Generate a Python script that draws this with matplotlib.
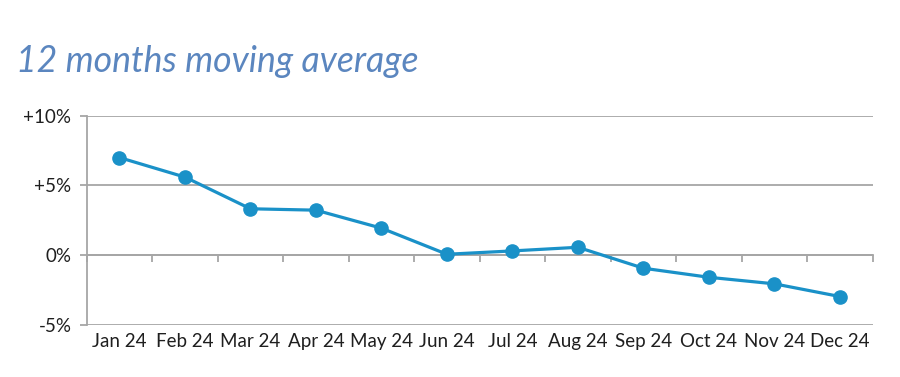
import matplotlib.pyplot as plt
import numpy as np

months = ['Jan 24', 'Feb 24', 'Mar 24', 'Apr 24', 'May 24', 'Jun 24',
          'Jul 24', 'Aug 24', 'Sep 24', 'Oct 24', 'Nov 24', 'Dec 24']
moving_avg = [7.0, 5.6, 3.33, 3.23, 1.94, 0.07, 0.31, 0.57, -0.93, -1.58, -2.05, -2.96]
yticks = [-5, 0, 5, 10]
ylabels = ['-5%', '0%', '+5%', '+10%']

plt.rcParams['font.family'] = ['Lato', 'DejaVu Sans']

fig = plt.figure(figsize=(9, 3.77), dpi=100)
ax = fig.add_axes([0.0963, 0.1379, 0.9697 - 0.0963, 0.6931 - 0.1379])

x = np.arange(len(months))
ax.plot(x, moving_avg, color='#1a91c8', lw=2.3, marker='o', ms=9.5, zorder=3)

ax.set_xlim(-0.5, len(months) - 0.5)
ax.set_ylim(-5, 10)
ax.set_yticks(yticks)
ax.set_yticklabels(ylabels)
ax.yaxis.grid(True, color='#a6a6a6', lw=1.3)
ax.set_axisbelow(True)

for s in ['top', 'right']:
    ax.spines[s].set_visible(False)
ax.spines['left'].set_color('#a6a6a6')
ax.spines['left'].set_linewidth(1.3)
ax.spines['bottom'].set_position(('data', 0))
ax.spines['bottom'].set_color('#a6a6a6')
ax.spines['bottom'].set_linewidth(1.3)

# labels at category centres, tick marks on category boundaries
ax.set_xticks(x)
ax.set_xticklabels(months)
ax.set_xticks(np.arange(len(months) + 1) - 0.5, minor=True)
ax.tick_params(axis='x', which='major', length=0, pad=56, labelsize=13.5, labelcolor='#1f1f1f')
ax.tick_params(axis='x', which='minor', length=5, width=1.3, color='#a6a6a6', direction='out')
ax.tick_params(axis='y', length=5, width=1.3, color='#a6a6a6', pad=6, labelsize=13.5, labelcolor='#1f1f1f')

fig.text(0.018, 0.81, '12 months moving average', fontsize=25.7, style='italic',
         color='#5b86bf', va='baseline')

plt.savefig('out.png')
